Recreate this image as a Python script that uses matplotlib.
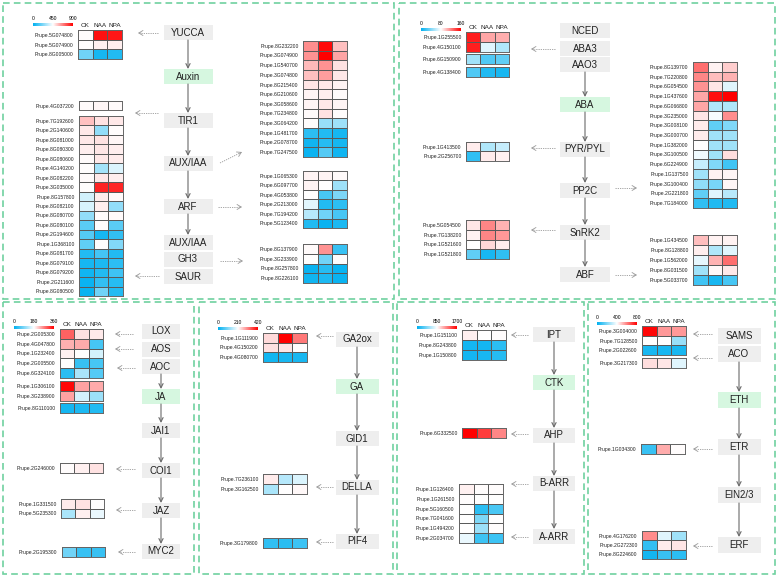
import numpy as np
import matplotlib as mpl
import matplotlib.pyplot as plt
from matplotlib.colors import LinearSegmentedColormap, Normalize
from matplotlib.patches import Rectangle

plt.rcParams['font.family'] = ['Liberation Sans', 'DejaVu Sans']

W, H = 777, 577
treat = ['CK', 'NAA', 'NPA']
cmap = LinearSegmentedColormap.from_list('expr', ['#00B0F0', '#FFFFFF', '#FF0000'])

# ---------------- expression data (CK, NAA, NPA) ----------------
# Auxin, scale 0-900
aux_a_genes = ['5G074800', '5G074900', '8G005000']
aux_a = [[455, 870, 860], [455, 475, 480], [200, 40, 60]]
aux_b_genes = ['4G037200']
aux_b = [[460, 465, 460]]
aux_c_genes = ['7G192600', '2G140600', '8G081000', '8G080300', '8G080600', '4G140200',
               '8G082200', '3G035000', '8G157800', '8G082100', '8G080700', '8G080100',
               '2G194600', '1G368100', '8G081700', '8G079100', '8G079200', '2G211600', '8G080500']
aux_c = [[560, 500, 490], [490, 260, 455], [490, 500, 465], [480, 495, 480], [460, 490, 485],
         [455, 290, 390], [460, 490, 480], [455, 840, 830], [370, 485, 460], [380, 480, 260],
         [260, 455, 460], [160, 455, 160], [150, 40, 90], [170, 455, 230], [60, 120, 60],
         [40, 50, 80], [30, 60, 110], [20, 90, 70], [20, 200, 60]]
aux_d_genes = ['8G232200', '3G074900', '1G540700', '3G074800', '8G215400', '6G210600',
               '3G058600', '7G234800', '3G064200', '1G481700', '2G078700', '7G247500']
aux_d = [[650, 880, 560], [640, 900, 610], [570, 640, 500], [560, 620, 490], [495, 490, 470],
         [470, 480, 460], [470, 490, 470], [460, 500, 455], [455, 270, 280], [80, 60, 40],
         [30, 70, 40], [20, 150, 30]]
aux_e_genes = ['1G065300', '6G097700', '4G053800', '2G213000', '7G194200', '5G123400']
aux_e = [[470, 470, 458], [470, 452, 280], [452, 130, 220], [400, 60, 80], [320, 200, 130], [60, 20, 50]]
aux_f_genes = ['8G137900', '3G233900', '8G257800', '8G226100']
aux_f = [[460, 640, 100], [452, 200, 455], [20, 70, 20], [30, 50, 20]]

# ABA, scale 0-160
aba_g_genes = ['1G255500', '4G150100']
aba_g = [[150, 108, 105], [150, 70, 55]]
aba_h_genes = ['6G150900']
aba_h = [[50, 25, 30]]
aba_i_genes = ['4G138400']
aba_i = [[25, 10, 8]]
aba_j_genes = ['1G413500', '2G256700']
aba_j = [[86, 55, 62], [15, 86, 84]]
aba_k_genes = ['5G054500', '7G138200', '1G521600', '1G521800']
aba_k = [[88, 118, 104], [84, 118, 112], [80, 92, 86], [30, 8, 15]]
aba_l_genes = ['8G139700', '7G220800', '6G054500', '1G437600', '6G066800', '3G235000',
               '3G008100', '3G000700', '1G382000', '3G100500', '6G224900', '1G137500',
               '3G100400', '2G221800', '7G184000']
aba_l = [[125, 84, 95], [118, 100, 104], [114, 88, 70], [108, 155, 160], [108, 55, 55],
         [88, 77, 115], [86, 30, 40], [86, 50, 50], [80, 50, 50], [75, 50, 90], [62, 40, 20],
         [50, 84, 83], [45, 38, 83], [30, 70, 58], [15, 10, 10]]
aba_m_genes = ['1G434500', '8G128800', '1G562000', '8G031500', '5G033700']
aba_m = [[100, 84, 84], [85, 55, 70], [72, 104, 125], [50, 82, 87], [20, 8, 22]]

# JA, scale 0-360
ja_n_genes = ['2G005300', '4G047800', '1G232400', '2G005500', '6G324100']
ja_n = [[290, 200, 195], [235, 240, 50], [190, 180, 150], [180, 40, 50], [30, 120, 60]]
ja_o_genes = ['1G306100', '3G238900']
ja_o = [[355, 245, 240], [245, 150, 110]]
ja_p_genes = ['8G110100']
ja_p = [[15, 20, 25]]
ja_q_genes = ['2G246000']
ja_q = [[182, 190, 200]]
ja_r_genes = ['1G331500', '5G235300']
ja_r = [[195, 200, 180], [120, 190, 165]]
ja_s_genes = ['2G195300']
ja_s = [[80, 40, 40]]

# GA, scale 0-420
ga_t_genes = ['1G111900', '4G150200', '4G080700']
ga_t = [[240, 420, 320], [235, 230, 212], [15, 20, 20]]
ga_u_genes = ['7G236100', '3G162500']
ga_u = [[225, 150, 180], [140, 210, 215]]
ga_v_genes = ['3G179800']
ga_v = [[40, 35, 50]]

# CTK, scale 0-1700
ctk_w_genes = ['1G151100', '8G243800', '1G150800']
ctk_w = [[900, 855, 860], [70, 70, 150], [70, 80, 130]]
ctk_x_genes = ['6G332500']
ctk_x = [[1700, 1500, 1250]]
ctk_y_genes = ['1G126400', '1G261500', '5G160500', '7G041600', '1G494200', '2G034700']
ctk_y = [[900, 860, 860], [860, 850, 850], [850, 150, 250], [850, 420, 850], [850, 520, 860], [780, 200, 200]]

# ETH, scale 0-800
eth_z_genes = ['3G004000', '7G128500', '2G022600']
eth_z = [[790, 560, 560], [400, 400, 240], [40, 40, 40]]
eth_aa_genes = ['3G217300']
eth_aa = [[450, 440, 350]]
eth_ab_genes = ['1G034300']
eth_ab = [[90, 530, 405]]
eth_ac_genes = ['4G176200', '2G272300', '8G224600']
eth_ac = [[580, 350, 250], [80, 430, 440], [30, 90, 70]]

# ---------------- figure ----------------
fig = plt.figure(figsize=(W / 100, H / 100), dpi=100)
ax = fig.add_axes([0, 0, 1, 1])
ax.set_xlim(0, W)
ax.set_ylim(H, 0)
ax.axis('off')

# dashed panel frames
for x0, y0, x1, y1 in [(3, 3, 394, 299), (399, 3, 775, 299), (3, 302, 194, 574),
                       (199, 302, 393, 574), (397, 302, 584, 574), (588, 302, 775, 574)]:
    ax.add_patch(Rectangle((x0, y0), x1 - x0, y1 - y0, fill=False, ec='#6fd1a0',
                           lw=1.2, ls=(0, (4, 2.5))))


def heat(genes, vals, vmax, x, y, w, h, header=False):
    hx = fig.add_axes([x / W, 1 - (y + h) / H, w / W, h / H])
    hx.pcolormesh(np.array(vals), cmap=cmap, vmin=0, vmax=vmax,
                  edgecolors='#5a5a5a', linewidth=0.5)
    hx.set_xlim(0, 3)
    hx.set_ylim(len(genes), 0)
    hx.set_yticks(np.arange(len(genes)) + 0.5, ['Prupe.' + g for g in genes],
                  fontsize=3.6, color='#222')
    hx.tick_params(axis='y', length=0, pad=3.2)
    if header:
        hx.xaxis.tick_top()
        hx.set_xticks([0.5, 1.5, 2.5], treat, fontsize=4.6, color='#222')
        hx.tick_params(axis='x', length=0, pad=1.5)
    else:
        hx.set_xticks([])
    for s in hx.spines.values():
        s.set_color('#666666')
        s.set_linewidth(0.7)


def cbar(vmax, x, y, w=40, h=3):
    cax = fig.add_axes([x / W, 1 - (y + h) / H, w / W, h / H])
    cb = fig.colorbar(mpl.cm.ScalarMappable(norm=Normalize(0, vmax), cmap=cmap),
                      cax=cax, orientation='horizontal', ticks=[0, vmax / 2, vmax])
    cb.outline.set_visible(False)
    cax.xaxis.set_ticks_position('top')
    cb.set_ticklabels(['0', f'{vmax // 2}', f'{vmax}'])
    cax.tick_params(length=0, labelsize=3.6, pad=1.5)


def pathway(names, tops, green, xc, bw, links, bh=15):
    for n, t, g in zip(names, tops, green):
        ax.add_patch(Rectangle((xc - bw / 2, t), bw, bh, fc='#d6f7e0' if g else '#eeeeee', ec='none'))
        ax.text(xc, t + bh / 2, n, ha='center', va='center', fontsize=7, color='#222')
    for i in links:
        ax.annotate('', xy=(xc, tops[i + 1]), xytext=(xc, tops[i] + bh),
                    arrowprops=dict(arrowstyle='->,head_length=0.3,head_width=0.15',
                                    color='#6a6a6a', lw=0.8, shrinkA=0, shrinkB=0))


def dashed(x0, y0, x1, y1):
    d = np.hypot(x1 - x0, y1 - y0)
    xm, ym = x1 - 3 * (x1 - x0) / d, y1 - 3 * (y1 - y0) / d
    ax.plot([x0, xm], [y0, ym], color='#9a9a9a', lw=0.6, ls=(0, (1.5, 1.2)))
    ax.annotate('', xy=(x1, y1), xytext=(xm, ym),
                arrowprops=dict(arrowstyle='->,head_length=0.3,head_width=0.18',
                                color='#9a9a9a', lw=0.6, shrinkA=0, shrinkB=0))


# ---- Auxin panel ----
cbar(900, 33, 23)
heat(aux_a_genes, aux_a, 900, 78, 30, 44, 29, header=True)
heat(aux_b_genes, aux_b, 900, 79, 101, 43, 9.5)
heat(aux_c_genes, aux_c, 900, 79, 116, 44, 180)
heat(aux_d_genes, aux_d, 900, 303, 41, 44, 116)
heat(aux_e_genes, aux_e, 900, 303, 171, 44, 57)
heat(aux_f_genes, aux_f, 900, 303, 244, 44, 39)
pathway(['YUCCA', 'Auxin', 'TIR1', 'AUX/IAA', 'ARF', 'AUX/IAA', 'GH3', 'SAUR'],
        [25, 69, 113, 156, 199, 235, 252, 269],
        [0, 1, 0, 0, 0, 0, 0, 0], 188, 49, [0, 1, 2, 3, 4])
for seg in [(158, 33, 138, 33), (158, 113, 135, 113), (159, 276, 135, 276),
            (220, 163, 242, 152), (218, 207, 242, 207), (220, 261, 243, 261)]:
    dashed(*seg)

# ---- ABA panel ----
cbar(160, 421, 28)
heat(aba_g_genes, aba_g, 160, 466, 32, 43, 20, header=True)
heat(aba_h_genes, aba_h, 160, 466, 54, 43, 9.5)
heat(aba_i_genes, aba_i, 160, 466, 67, 43, 9.5)
heat(aba_j_genes, aba_j, 160, 466, 142, 43, 19)
heat(aba_k_genes, aba_k, 160, 466, 220, 43, 39)
heat(aba_l_genes, aba_l, 160, 693, 62, 44, 146)
heat(aba_m_genes, aba_m, 160, 693, 235, 44, 50)
pathway(['NCED', 'ABA3', 'AAO3', 'ABA', 'PYR/PYL', 'PP2C', 'SnRK2', 'ABF'],
        [23, 41, 57, 97, 142, 183, 225, 267],
        [0, 0, 0, 1, 0, 0, 0, 0], 585, 50, [2, 3, 4, 5, 6])
for seg in [(555, 49, 531, 49), (555, 148, 531, 148), (555, 230, 531, 230),
            (615, 188, 637, 188), (615, 275, 637, 275)]:
    dashed(*seg)

# ---- JA panel ----
cbar(360, 14, 326)
heat(ja_n_genes, ja_n, 360, 60, 329, 43, 49, header=True)
heat(ja_o_genes, ja_o, 360, 60, 381, 43, 19.5)
heat(ja_p_genes, ja_p, 360, 60, 403, 43, 10)
heat(ja_q_genes, ja_q, 360, 60, 463, 43, 9.5)
heat(ja_r_genes, ja_r, 360, 61, 499, 43, 19)
heat(ja_s_genes, ja_s, 360, 62, 547, 43, 10)
pathway(['LOX', 'AOS', 'AOC', 'JA', 'JAI1', 'COI1', 'JAZ', 'MYC2'],
        [324, 342, 359, 389, 423, 463, 503, 544],
        [0, 0, 0, 1, 0, 0, 0, 0], 161, 38, [2, 3, 4, 5, 6])
for seg in [(133, 334, 115, 334), (133, 349, 115, 349), (135, 368, 117, 368),
            (135, 469, 116, 469), (135, 510, 116, 510), (135, 552, 118, 552)]:
    dashed(*seg)

# ---- GA panel ----
cbar(420, 218, 327)
heat(ga_t_genes, ga_t, 420, 263, 333, 44, 29, header=True)
heat(ga_u_genes, ga_u, 420, 263, 474, 44, 20)
heat(ga_v_genes, ga_v, 420, 263, 538, 44, 10)
pathway(['GA2ox', 'GA', 'GID1', 'DELLA', 'PIF4'],
        [332, 379, 431, 480, 534],
        [0, 1, 0, 0, 0], 357, 43, [0, 1, 2, 3])
for seg in [(333, 336, 316, 336), (333, 487, 316, 487), (333, 542, 316, 542)]:
    dashed(*seg)

# ---- CTK panel ----
cbar(1700, 417, 326)
heat(ctk_w_genes, ctk_w, 1700, 462, 330, 44, 30, header=True)
heat(ctk_x_genes, ctk_x, 1700, 462, 428, 44, 9.5)
heat(ctk_y_genes, ctk_y, 1700, 459, 484, 44, 59)
pathway(['IPT', 'CTK', 'AHP', 'B-ARR', 'A-ARR'],
        [327, 375, 428, 476, 529],
        [0, 1, 0, 0, 0], 554, 42, [0, 1, 2, 3])
for seg in [(528, 335, 511, 335), (528, 434, 511, 434), (528, 484, 511, 484), (528, 537, 511, 537)]:
    dashed(*seg)

# ---- ETH panel ----
cbar(800, 597, 322)
heat(eth_z_genes, eth_z, 800, 642, 326, 44, 29, header=True)
heat(eth_aa_genes, eth_aa, 800, 642, 358, 44, 10)
heat(eth_ab_genes, eth_ab, 800, 641, 444, 44, 10)
heat(eth_ac_genes, eth_ac, 800, 642, 531, 44, 28)
pathway(['SAMS', 'ACO', 'ETH', 'ETR', 'EIN2/3', 'ERF'],
        [328, 346, 392, 439, 487, 537],
        [0, 0, 1, 0, 0, 0], 739, 43, [1, 2, 3, 4], bh=16)
for seg in [(712, 334, 693, 334), (712, 358, 693, 358), (712, 449, 693, 449), (712, 546, 693, 546)]:
    dashed(*seg)

fig.savefig('out.png', dpi=100)
